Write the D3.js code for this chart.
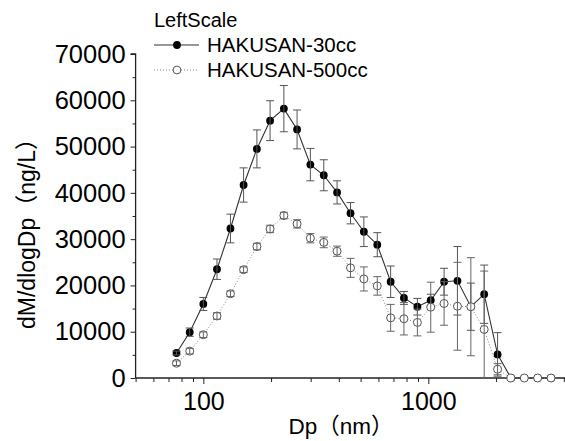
<!DOCTYPE html>
<html>
<head>
<meta charset="utf-8">
<script src="https://cdn.jsdelivr.net/npm/d3@7"></script>
<style>
  body { margin: 0; background: #fff; }
  text { font-family: "Liberation Sans", Arial, "Noto Sans CJK JP", sans-serif; fill: #000; }
</style>
</head>
<body>
<div id="chart"></div>
<script>
// particle diameter bins (nm)
var dp = [76, 87, 100, 115, 132, 151, 173, 198, 228, 261, 299, 343, 393, 451, 517,
          593, 680, 779, 894, 1025, 1175, 1347, 1545, 1771, 2031, 2328, 2670, 3061, 3510];

var seriesNames = ['HAKUSAN-30cc', 'HAKUSAN-500cc'];

var mass30 = [5400, 9900, 16000, 23500, 32300, 41700, 49500, 55600, 58200, 53700, 46100, 43800, 40100, 35600, 31600,
              28800, 20800, 17300, 15400, 16800, 20800, 21000, 15400, 18100, 5100, 0, 0, 0, 0];
var err30 = [400, 900, 1400, 2200, 3100, 3700, 4100, 4300, 5000, 4200, 3500, 3350, 2500, 2300, 3200,
             2600, 3400, 1400, 1800, 1300, 2900, 7400, 5100, 6300, 4700, 0, 0, 0, 0];

var mass500 = [3200, 5800, 9350, 13400, 18200, 23400, 28400, 32200, 35100, 33300, 30200, 29300, 27400, 23800, 21400,
               19900, 13000, 12800, 12000, 15300, 16100, 15500, 15400, 10500, 1900, 0, 0, 0, 0];
var err500 = [500, 600, 600, 700, 600, 600, 700, 800, 700, 900, 1000, 1150, 1100, 2050, 2600,
              2000, 2900, 3500, 2900, 5400, 4700, 9500, 10600, 12600, 1200, 0, 0, 0, 0];

var yTicks = [0, 10000, 20000, 30000, 40000, 50000, 60000, 70000];
var xTicks = [100, 1000];

var width = 565;
var height = 441;

var svg = d3.select('#chart')
  .append('svg')
  .attr('width', width)
  .attr('height', height);

var x = d3.scaleLog()
  .domain([50, 4000])
  .range([135.6, 563.8]);

var y = d3.scaleLinear()
  .domain([0, 70000])
  .range([378, 54]);

// minor x ticks: 50..90, 200..900, 2000..4000
var xMinor = [];
[10, 100, 1000].forEach(function (dec) {
  for (var k = 2; k <= 9; k++) {
    var v = k * dec;
    if (v >= 50 && v <= 4000 && xTicks.indexOf(v) < 0) xMinor.push(v);
  }
});
var yMinor = d3.range(5000, 70000, 10000);

// axes
svg.append('g')
  .attr('transform', 'translate(0,378)')
  .call(d3.axisBottom(x).tickValues(xMinor).tickSize(4).tickFormat(''))
  .call(g => g.select('.domain').remove())
  .selectAll('line').attr('stroke', '#222');

svg.append('g')
  .attr('transform', 'translate(0,378)')
  .call(d3.axisBottom(x).tickValues(xTicks).tickSize(6).tickPadding(8).tickFormat(d3.format('d')))
  .call(g => g.select('.domain').attr('d', 'M135.6,0H565').attr('stroke', '#222').attr('stroke-width', 1.3))
  .call(g => g.selectAll('line').attr('stroke', '#222'))
  .call(g => g.selectAll('text').attr('font-size', '25px').attr('fill', '#000'));

svg.append('g')
  .attr('transform', 'translate(135.6,0)')
  .call(d3.axisLeft(y).tickValues(yMinor).tickSize(3).tickFormat(''))
  .call(g => g.select('.domain').remove())
  .selectAll('line').attr('stroke', '#222');

svg.append('g')
  .attr('transform', 'translate(135.6,0)')
  .call(d3.axisLeft(y).tickValues(yTicks).tickSize(5).tickPadding(5).tickFormat(d3.format('d')))
  .call(g => g.select('.domain').attr('d', 'M-5,54H0V378').attr('stroke', '#222').attr('stroke-width', 1.3))
  .call(g => g.selectAll('line').attr('stroke', '#222'))
  .call(g => g.selectAll('text').attr('font-size', '25.5px').attr('fill', '#000'));

// axis titles
svg.append('text')
  .attr('x', 341)
  .attr('y', 434)
  .attr('text-anchor', 'middle')
  .attr('font-size', '22.5px')
  .text('Dp（nm）');

svg.append('text')
  .attr('transform', 'translate(35,228) rotate(-90)')
  .attr('text-anchor', 'middle')
  .attr('font-size', '23px')
  .text('dM/dlogDp（ng/L）');

var line = d3.line()
  .x(d => x(d[0]))
  .y(d => y(d[1]));

function drawErrors(vals, errs, color) {
  var g = svg.append('g').attr('stroke', color).attr('stroke-width', 1).attr('fill', 'none');
  dp.forEach(function (d, i) {
    if (errs[i] <= 0) return;
    var cx = x(d);
    var lo = Math.max(0, vals[i] - errs[i]);
    var hi = vals[i] + errs[i];
    g.append('line').attr('x1', cx).attr('x2', cx).attr('y1', y(lo)).attr('y2', y(hi));
    g.append('line').attr('x1', cx - 4).attr('x2', cx + 4).attr('y1', y(hi)).attr('y2', y(hi));
    if (vals[i] - errs[i] > 0)
      g.append('line').attr('x1', cx - 4).attr('x2', cx + 4).attr('y1', y(lo)).attr('y2', y(lo));
  });
}

// HAKUSAN-30cc: solid line, filled dots
svg.append('path')
  .datum(d3.zip(dp, mass30))
  .attr('d', line)
  .attr('fill', 'none')
  .attr('stroke', '#333')
  .attr('stroke-width', 1.1);

svg.append('g')
  .selectAll('circle')
  .data(d3.zip(dp, mass30))
  .join('circle')
  .attr('cx', d => x(d[0]))
  .attr('cy', d => y(d[1]))
  .attr('r', 3.9)
  .attr('fill', '#000');

drawErrors(mass30, err30, '#555');

// HAKUSAN-500cc: dotted line, open circles
svg.append('path')
  .datum(d3.zip(dp, mass500))
  .attr('d', line)
  .attr('fill', 'none')
  .attr('stroke', '#888')
  .attr('stroke-width', 1)
  .attr('stroke-dasharray', '1,2');

svg.append('g')
  .selectAll('circle')
  .data(d3.zip(dp, mass500))
  .join('circle')
  .attr('cx', d => x(d[0]))
  .attr('cy', d => y(d[1]))
  .attr('r', 4)
  .attr('fill', '#fff')
  .attr('stroke', '#555')
  .attr('stroke-width', 1);

drawErrors(mass500, err500, '#666');

// legend
var legend = svg.append('g');
legend.append('text')
  .attr('x', 154)
  .attr('y', 27)
  .attr('font-size', '20px')
  .text('LeftScale');

seriesNames.forEach(function (name, i) {
  var ly = 45 + i * 25;
  legend.append('line')
    .attr('x1', 154).attr('x2', 199)
    .attr('y1', ly).attr('y2', ly)
    .attr('stroke', i === 0 ? '#333' : '#888')
    .attr('stroke-width', i === 0 ? 1.1 : 1)
    .attr('stroke-dasharray', i === 0 ? null : '1,2');
  legend.append('circle')
    .attr('cx', 177).attr('cy', ly).attr('r', 3.9)
    .attr('fill', i === 0 ? '#000' : '#fff')
    .attr('stroke', i === 0 ? 'none' : '#555');
  legend.append('text')
    .attr('x', 207)
    .attr('y', ly + 7)
    .attr('font-size', '20.5px')
    .text(name);
});
</script>
</body>
</html>
